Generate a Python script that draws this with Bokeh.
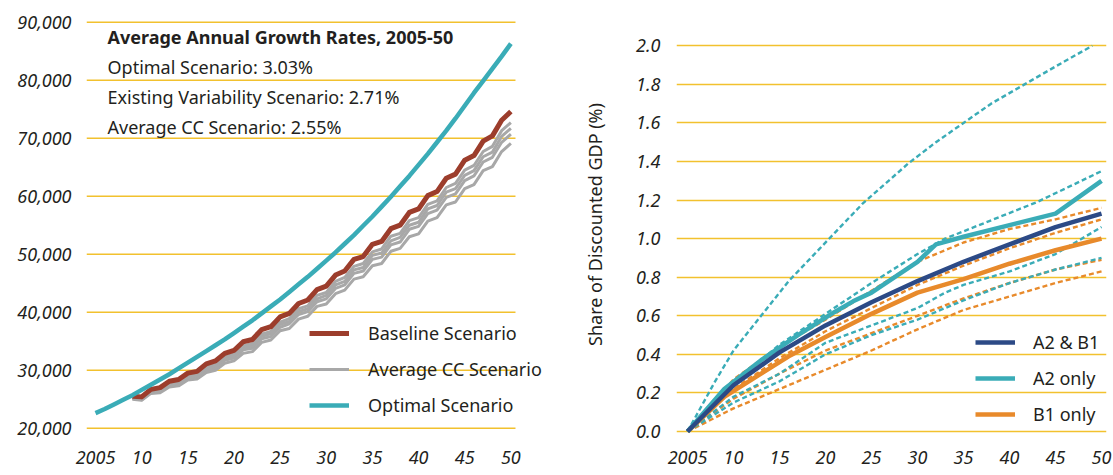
from bokeh.plotting import figure
from bokeh.layouts import row
from bokeh.models import (FixedTicker, NumeralTickFormatter, Legend, LegendItem, Label, Range1d)
from bokeh.embed import file_html
from bokeh.resources import INLINE

# ---------------- Left chart data (GDP, scenarios) ----------------
opt_years = list(range(2005, 2051))
optimal = [22600, 23300, 24100, 24900, 25700, 26600, 27500, 28400, 29300, 30300,
           31300, 32300, 33300, 34300, 35300, 36400, 37500, 38600, 39800, 41000,
           42200, 43500, 44800, 46100, 47500, 48900, 50300, 51800, 53300, 54900,
           56500, 58200, 59900, 61700, 63500, 65400, 67300, 69300, 71300, 73400,
           75600, 77800, 79900, 82000, 84100, 86300]

base_years = list(range(2009, 2051))
baseline = [25500, 25400, 26700, 27000, 28100, 28400, 29500, 29800, 31100, 31600,
            32900, 33400, 34900, 35300, 37000, 37500, 39200, 39800, 41500, 42100,
            43900, 44500, 46400, 47100, 49100, 49600, 51700, 52200, 54400, 55000,
            57200, 57800, 60100, 60800, 63100, 63800, 66200, 67000, 69500, 70400,
            73100, 74600]
cc_1 = [25300, 25200, 26400, 26700, 27700, 28000, 29100, 29300, 30600, 31000,
        32300, 32800, 34200, 34600, 36200, 36700, 38300, 38900, 40600, 41100,
        42900, 43400, 45300, 46000, 47900, 48400, 50400, 50900, 53100, 53600,
        55800, 56300, 58600, 59200, 61500, 62200, 64500, 65300, 67700, 68600,
        71300, 72700]
cc_2 = [25200, 25000, 26300, 26500, 27600, 27800, 28800, 29100, 30300, 30700,
        32000, 32400, 33800, 34200, 35800, 36300, 37900, 38400, 40100, 40600,
        42300, 42900, 44700, 45300, 47300, 47700, 49800, 50200, 52300, 52900,
        55000, 55500, 57800, 58400, 60700, 61300, 63600, 64400, 66800, 67600,
        70300, 71700]
cc_3 = [25100, 24900, 26100, 26300, 27400, 27600, 28600, 28800, 30000, 30400,
        31700, 32100, 33500, 33800, 35400, 35800, 37400, 38000, 39600, 40100,
        41800, 42300, 44100, 44700, 46700, 47100, 49100, 49500, 51600, 52100,
        54300, 54800, 57000, 57600, 59800, 60400, 62700, 63500, 65900, 66700,
        69300, 70700]
cc_4 = [25000, 24800, 26000, 26100, 27100, 27300, 28300, 28500, 29600, 30000,
        31200, 31600, 32900, 33200, 34800, 35200, 36800, 37200, 38800, 39300,
        41000, 41400, 43200, 43800, 45700, 46100, 48000, 48400, 50500, 51000,
        53000, 53500, 55700, 56300, 58500, 59000, 61300, 62000, 64400, 65100,
        67700, 69100]

left_y_ticks = [20000, 30000, 40000, 50000, 60000, 70000, 80000, 90000]
x_ticks = [2005, 2010, 2015, 2020, 2025, 2030, 2035, 2040, 2045, 2050]
x_tick_labels = ["2005", "10", "15", "20", "25", "30", "35", "40", "45", "50"]

growth_title = "Average Annual Growth Rates, 2005-50"
growth_lines = ["Optimal Scenario: 3.03%",
                "Existing Variability Scenario: 2.71%",
                "Average CC Scenario: 2.55%"]

# ---------------- Right chart data (share of discounted GDP) ----------------
a2b1_years = [2005, 2010, 2015, 2020, 2025, 2030, 2035, 2040, 2045, 2050]
a2b1 = [0.0, 0.24, 0.41, 0.55, 0.67, 0.78, 0.88, 0.97, 1.06, 1.13]

a2_years = [2005, 2009, 2013, 2017, 2021, 2023, 2025, 2030, 2032, 2035, 2045, 2050]
a2_only = [0.0, 0.22, 0.37, 0.50, 0.62, 0.675, 0.72, 0.88, 0.97, 1.01, 1.13, 1.30]

b1_years = [2005, 2009, 2013, 2016, 2020, 2025, 2030, 2035, 2040, 2045, 2050]
b1_only = [0.0, 0.18, 0.30, 0.39, 0.49, 0.61, 0.72, 0.79, 0.87, 0.94, 1.00]

a2_model1_years = [2005, 2008, 2010, 2013, 2016, 2018, 2021, 2024, 2029, 2032, 2035, 2038, 2042, 2046, 2049]
a2_model1 = [0.0, 0.26, 0.42, 0.60, 0.78, 0.88, 1.03, 1.18, 1.39, 1.50, 1.60, 1.70, 1.81, 1.92, 2.0]
a2_model2_years = [2005, 2010, 2015, 2020, 2025, 2028, 2030, 2033, 2043, 2050]
a2_model2 = [0.0, 0.25, 0.45, 0.61, 0.77, 0.86, 0.92, 1.00, 1.19, 1.35]
a2_model3_years = [2005, 2010, 2015, 2020, 2025, 2030, 2033, 2035, 2040, 2045, 2050]
a2_model3 = [0.0, 0.18, 0.30, 0.46, 0.55, 0.64, 0.72, 0.76, 0.83, 0.92, 1.06]
a2_model4_years = [2005, 2010, 2015, 2020, 2025, 2030, 2035, 2040, 2045, 2050]
a2_model4 = [0.0, 0.15, 0.26, 0.40, 0.50, 0.58, 0.68, 0.77, 0.84, 0.90]

b1_model_years = [2005, 2010, 2015, 2020, 2025, 2030, 2035, 2040, 2045, 2050]
b1_model1 = [0.0, 0.27, 0.44, 0.58, 0.73, 0.88, 0.98, 1.05, 1.10, 1.16]
b1_model2 = [0.0, 0.22, 0.38, 0.52, 0.64, 0.76, 0.86, 0.95, 1.03, 1.10]
b1_model3 = [0.0, 0.17, 0.30, 0.42, 0.51, 0.60, 0.69, 0.77, 0.84, 0.89]
b1_model4 = [0.0, 0.12, 0.22, 0.32, 0.42, 0.53, 0.63, 0.70, 0.77, 0.83]

right_y_ticks = [0.0, 0.2, 0.4, 0.6, 0.8, 1.0, 1.2, 1.4, 1.6, 1.8, 2.0]
right_y_title = "Share of Discounted GDP (%)"

# ---------------- Styles ----------------
FONT = "Noto Sans"
TXT = "#231f20"
GRID = "#f2c12e"
TEAL = "#3aacb7"
BROWN = "#9c3d2c"
GRAY = "#a8a8a8"
NAVY = "#2c4a86"
ORANGE = "#e88a2b"


def style(p):
    p.outline_line_color = None
    p.background_fill_color = "white"
    p.border_fill_color = "white"
    p.xgrid.visible = False
    p.ygrid.grid_line_color = GRID
    p.ygrid.grid_line_width = 1.6
    for ax in (p.xaxis[0], p.yaxis[0]):
        ax.axis_line_color = None
        ax.major_tick_line_color = None
        ax.minor_tick_line_color = None
        ax.major_tick_out = 0
        ax.major_tick_in = 0
        ax.minor_tick_out = 0
        ax.minor_tick_in = 0
        ax.major_label_text_font = FONT
        ax.major_label_text_font_size = "18px"
        ax.major_label_text_font_style = "italic"
        ax.major_label_text_color = TXT
    p.xaxis[0].ticker = FixedTicker(ticks=x_ticks)
    p.xaxis[0].major_label_overrides = {t: lab for t, lab in zip(x_ticks, x_tick_labels)}
    p.xaxis[0].major_label_standoff = 16


# ---------------- Left figure ----------------
LX0, LX1 = 2004.025, 2054.51      # frame extends right so the legend text is not clipped
GRID_END = 2050.5                 # gridlines stop here, as in the original
p1 = figure(width=560, height=475, title=None,
            x_range=Range1d(LX0, LX1), y_range=Range1d(18913, 91328),
            output_backend="svg", toolbar_location=None,
            min_border_left=86, min_border_right=8, min_border_top=14, min_border_bottom=41)
style(p1)
p1.ygrid.visible = False
p1.yaxis[0].ticker = FixedTicker(ticks=left_y_ticks)
p1.yaxis[0].formatter = NumeralTickFormatter(format="0,0")
p1.yaxis[0].major_label_standoff = 15

p1.segment(x0=[LX0] * len(left_y_ticks), x1=[GRID_END] * len(left_y_ticks),
           y0=left_y_ticks, y1=left_y_ticks, line_color=GRID, line_width=1.6)

r_cc = None
for series in (cc_4, cc_3, cc_2, cc_1):
    r_cc = p1.line(base_years, series, line_color=GRAY, line_width=3, line_join="round")
r_base = p1.line(base_years, baseline, line_color=BROWN, line_width=5, line_join="round")
r_opt = p1.line(opt_years, optimal, line_color=TEAL, line_width=4.5)

leg1 = Legend(items=[LegendItem(label="Baseline Scenario", renderers=[r_base]),
                     LegendItem(label="Average CC Scenario", renderers=[r_cc]),
                     LegendItem(label="Optimal Scenario", renderers=[r_opt])],
              location=(223, 16), orientation="vertical",
              glyph_width=40, glyph_height=26, label_height=26, spacing=10,
              padding=0, margin=0, label_standoff=19,
              border_line_color=None, background_fill_alpha=0,
              label_text_font=FONT, label_text_font_size="18px", label_text_color=TXT)
p1.add_layout(leg1)

p1.add_layout(Label(x=21, y=397.3, x_units="screen", y_units="screen", text=growth_title,
                    text_font=FONT, text_font_size="18px", text_font_style="bold",
                    text_baseline="middle", text_color=TXT))
for txt, yy in zip(growth_lines, [367.3, 337.3, 308.0]):
    p1.add_layout(Label(x=21, y=yy, x_units="screen", y_units="screen", text=txt,
                        text_font=FONT, text_font_size="18px",
                        text_baseline="middle", text_color=TXT))

# ---------------- Right figure ----------------
p2 = figure(width=553, height=475, title=None,
            x_range=Range1d(2003.804, 2050.54), y_range=Range1d(-0.01556, 2.1623),
            output_backend="svg", toolbar_location=None,
            min_border_left=116, min_border_right=7, min_border_top=14, min_border_bottom=41)
style(p2)
p2.yaxis[0].ticker = FixedTicker(ticks=right_y_ticks)
p2.yaxis[0].formatter = NumeralTickFormatter(format="0.0")
p2.yaxis[0].major_label_standoff = 16
p2.yaxis[0].axis_label = right_y_title
p2.yaxis[0].axis_label_text_font = FONT
p2.yaxis[0].axis_label_text_font_size = "18px"
p2.yaxis[0].axis_label_text_font_style = "normal"
p2.yaxis[0].axis_label_text_color = TXT
p2.yaxis[0].axis_label_standoff = 26

DASH = "5 3"
for yrs, vals in ((b1_model_years, b1_model1), (b1_model_years, b1_model2),
                  (b1_model_years, b1_model3), (b1_model_years, b1_model4)):
    p2.line(yrs, vals, line_color=ORANGE, line_width=2.4, line_dash=DASH)
for yrs, vals in ((a2_model1_years, a2_model1), (a2_model2_years, a2_model2),
                  (a2_model3_years, a2_model3), (a2_model4_years, a2_model4)):
    p2.line(yrs, vals, line_color=TEAL, line_width=2.4, line_dash=DASH)

r_b1 = p2.line(b1_years, b1_only, line_color=ORANGE, line_width=4.5, line_join="round")
r_a2 = p2.line(a2_years, a2_only, line_color=TEAL, line_width=4.5, line_join="round")
r_ab = p2.line(a2b1_years, a2b1, line_color=NAVY, line_width=4.5, line_join="round")

leg2 = Legend(items=[LegendItem(label="A2 & B1", renderers=[r_ab]),
                     LegendItem(label="A2 only", renderers=[r_a2]),
                     LegendItem(label="B1 only", renderers=[r_b1])],
              location=(299, 7.3), orientation="vertical",
              glyph_width=40, glyph_height=26, label_height=26, spacing=10,
              padding=0, margin=0, label_standoff=18,
              border_line_color=None, background_fill_alpha=0,
              label_text_font=FONT, label_text_font_size="18px", label_text_color=TXT)
p2.add_layout(leg2)

layout = row(p1, p2)
open("out.html", "w").write(file_html(layout, INLINE))
